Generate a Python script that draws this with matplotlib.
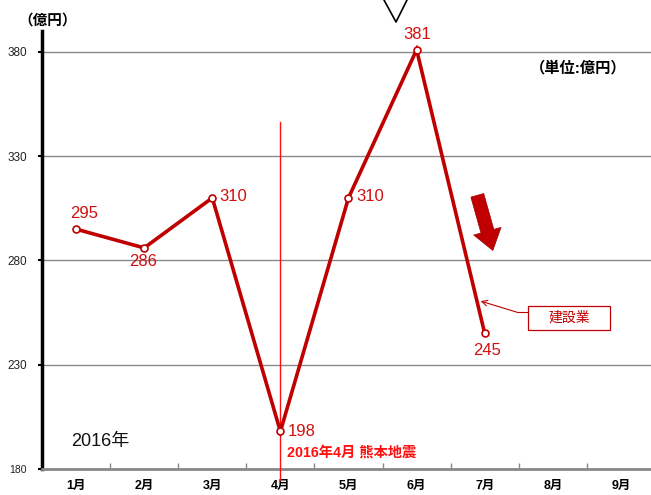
import matplotlib.pyplot as plt
from matplotlib.lines import Line2D
from matplotlib.patches import Rectangle

plt.rcParams['font.family'] = ['Liberation Sans', 'Noto Sans CJK JP']

months = ['1月', '2月', '3月', '4月', '5月', '6月', '7月', '8月', '9月']
values = [295, 286, 310, 198, 310, 381, 245]
label_offsets = [(8, 16), (-1, -14), (21, 1), (21, 0), (22, 1), (1, 15), (2, -17)]
yticks = [180, 230, 280, 330, 380]

red = '#c00000'

fig = plt.figure(figsize=(6.51, 4.95), dpi=100)
ax = fig.add_axes([42 / 651, 26 / 495, 613 / 651, 438 / 495])

x = list(range(len(values)))
ax.plot(x, values, color=red, lw=2.6, marker='o', ms=5, mfc='white',
        mec=red, mew=1.2, zorder=5, solid_joinstyle='miter')

for xi, v, off in zip(x, values, label_offsets):
    ax.annotate(str(v), (xi, v), xytext=off, textcoords='offset pixels',
                ha='center', va='center', fontsize=12, color='#d01010', zorder=6)

ax.set_xlim(-0.5, len(months) - 0.5)
ax.set_ylim(180, 390)

ax.set_yticks(yticks)
ax.set_yticklabels([str(t) for t in yticks])
ax.tick_params(axis='y', length=3, width=1.5, direction='out', pad=8,
               labelsize=8.5, labelcolor='#222222')
ax.get_yticklabels()[0].set_fontsize(7.5)

ax.set_xticks(range(len(months)))
ax.set_xticklabels(months, fontweight='bold', fontsize=9)
ax.set_xticks([i - 0.5 for i in range(len(months) + 1)], minor=True)
ax.tick_params(axis='x', which='major', length=0, pad=8)
ax.tick_params(axis='x', which='minor', length=4, width=1, direction='in',
               color='#888888')

for t in yticks[1:]:
    ax.axhline(t, color='#8a8a8a', lw=1, zorder=1)

for s in ['top', 'right']:
    ax.spines[s].set_visible(False)
ax.spines['left'].set_color('black')
ax.spines['left'].set_linewidth(2.5)
ax.spines['bottom'].set_color('#888888')
ax.spines['bottom'].set_linewidth(2)

# earthquake line
ax.plot([3, 3], [174.5, 346.5], color='#ff1010', lw=1, clip_on=False, zorder=4)
ax.text(3.1, 188, '2016年4月 熊本地震', color='#ff1010', fontsize=10.3,
        fontweight='bold', ha='left', va='center')

ax.text(-0.07, 193, '2016年', fontsize=13, ha='left', va='center', color='#111111')

# big red arrow
ax.annotate('', xy=(6.13, 283.5), xytext=(5.88, 312.5),
            arrowprops=dict(arrowstyle='simple,head_width=1.7,tail_width=0.8,head_length=1.2',
                            mutation_scale=12, fc=red, ec='#a00000', lw=0.5))

# callout
ax.add_patch(Rectangle((6.64, 246.7), 1.2, 11.5, fc='white', ec=red, lw=0.9,
                       zorder=6))
ax.text(7.24, 252.5, '建設業', fontsize=10, color=red, ha='center',
        va='center', zorder=7)
ax.plot([6.64, 6.47], [255.2, 255.2], color=red, lw=0.8)
ax.annotate('', xy=(5.94, 260.5), xytext=(6.47, 255.2),
            arrowprops=dict(arrowstyle='->', color=red, lw=0.8,
                            shrinkA=0, shrinkB=0))

fig.text(48 / 651, 1 - 21 / 495, '（億円）', fontsize=10.5, fontweight='bold',
         ha='center', va='center')
fig.text(578 / 651, 1 - 68 / 495, '（単位:億円）', fontsize=11, fontweight='bold',
         ha='center', va='center')

# top V marker
fig.add_artist(Line2D([384 / 651, 396 / 651, 407 / 651],
                      [1.0, 1 - 22 / 495, 1.0], color='black', lw=1.2))

fig.savefig('out.png', dpi=100)
